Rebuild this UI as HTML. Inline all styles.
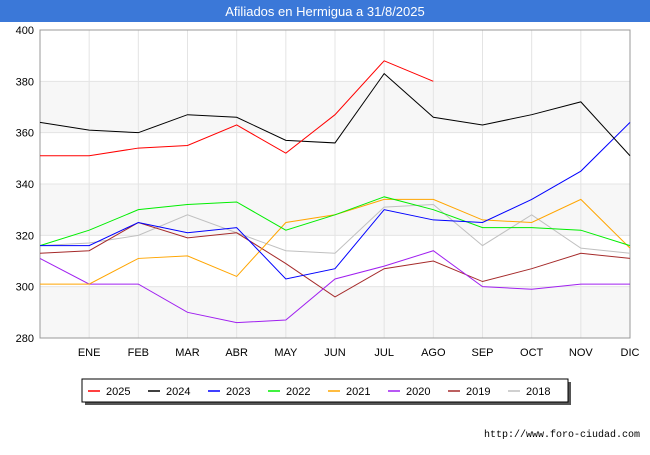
<!DOCTYPE html>
<html><head><meta charset="utf-8"><style>
body{margin:0;background:#fff;font-family:"Liberation Sans",sans-serif;}
</style></head><body>
<svg width="650" height="450" xmlns="http://www.w3.org/2000/svg">
<rect x="0" y="0" width="650" height="22" fill="#3b78d8"/>
<text x="325" y="16" text-anchor="middle" fill="#fff" font-size="13">Afiliados en Hermigua a 31/8/2025</text>
<g id="bands"></g><g id="grid"></g><g id="series"></g>
<g id="legend"></g>
<text x="640" y="437" text-anchor="end" font-size="10" fill="#000" font-family="Liberation Mono, monospace">http://www.foro-ciudad.com</text>
</svg>
<script>
const months=["","ENE","FEB","MAR","ABR","MAY","JUN","JUL","AGO","SEP","OCT","NOV","DIC"];
const yTicks=[280,300,320,340,360,380,400];
const names=["2025","2024","2023","2022","2021","2020","2019","2018"];
const colors=["#ff0000","#000000","#0000ff","#00ee00","#ffa500","#a020f0","#a52a2a","#c0c0c0"];
const s2025=[351,351,354,355,363,352,367,388,380];
const s2024=[364,361,360,367,366,357,356,383,366,363,367,372,351];
const s2023=[316,316,325,321,323,303,307,330,326,325,334,345,364];
const s2022=[316,322,330,332,333,322,328,335,330,323,323,322,316];
const s2021=[301,301,311,312,304,325,328,334,334,326,325,334,315];
const s2020=[311,301,301,290,286,287,303,308,314,300,299,301,301];
const s2019=[313,314,325,319,321,309,296,307,310,302,307,313,311];
const s2018=[316,317,320,328,321,314,313,331,332,316,328,315,313];
const series=[s2025,s2024,s2023,s2022,s2021,s2020,s2019,s2018];
const NS="http://www.w3.org/2000/svg";
const x0=40,x1=630,y0=338,y1=30;
const xs=i=>x0+i*(x1-x0)/12;
const ys=v=>y0-(v-280)*(y0-y1)/120;
function mk(t,a,p){const e=document.createElementNS(NS,t);for(const k in a)e.setAttribute(k,a[k]);document.getElementById(p).appendChild(e);return e;}
for(let i=0;i<yTicks.length-1;i+=2){
 const r=mk('rect',{x:x0,y:ys(yTicks[i+1]),width:x1-x0,height:ys(yTicks[i])-ys(yTicks[i+1]),fill:'#f7f7f7'},'bands');
 
 
}
yTicks.forEach(v=>{
 const l=mk('line',{x1:x0,x2:x1,y1:ys(v),y2:ys(v),stroke:'#e4e4e4'},'grid');
 
 
 const t=mk('text',{x:x0-6,y:ys(v)+4,'text-anchor':'end','font-size':11,fill:'#000'},'grid');t.textContent=v;
 
 
});
months.forEach((m,i)=>{
 if(i>0){const l=mk('line',{x1:xs(i),x2:xs(i),y1:y1,y2:y0,stroke:'#e4e4e4'},'grid');
 
 }
 const t=mk('text',{x:xs(i),y:356,'text-anchor':'middle','font-size':11,fill:'#000'},'grid');t.textContent=m;
 
 
});
const fr=mk('rect',{x:x0,y:y1,width:x1-x0,height:y0-y1,fill:'none',stroke:'#999'},'grid');


for(let k=series.length-1;k>=0;k--){
 const p=mk('polyline',{points:series[k].map((v,i)=>xs(i)+','+ys(v)).join(' '),fill:'none',stroke:colors[k],'stroke-width':1},'series');
 
 
}
const sh=mk('rect',{x:85,y:382,width:486,height:23,fill:'#555'},'legend');


const bx=mk('rect',{x:82,y:379,width:486,height:23,fill:'#fff',stroke:'#000'},'legend');


names.forEach((n,k)=>{
 const lx=88+k*60;
 const l=mk('line',{x1:lx,x2:lx+12,y1:391,y2:391,stroke:colors[k],'stroke-width':1.5},'legend');
 
 
 const t=mk('text',{x:lx+18,y:395,'font-size':11,fill:'#000'},'legend');t.textContent=n;
 
 
});
</script>
</body></html>
